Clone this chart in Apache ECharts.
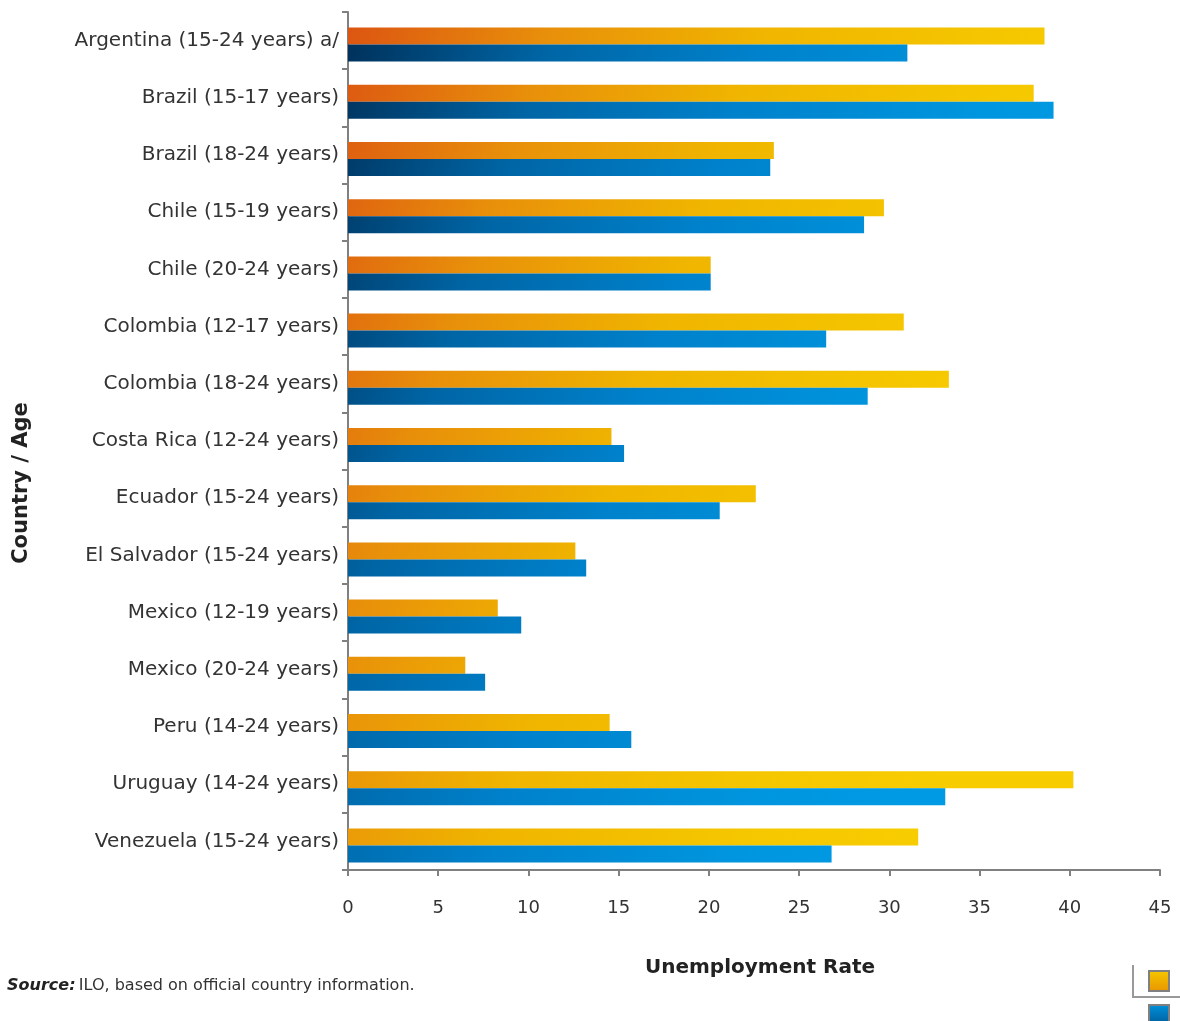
<!DOCTYPE html>
<html>
<head>
<meta charset="utf-8">
<script src="https://cdn.jsdelivr.net/npm/echarts@6/dist/echarts.min.js"></script>
<style>
html,body{margin:0;padding:0;background:#fff;}
#chart{width:1180px;height:1021px;}
</style>
</head>
<body>
<div id="chart"></div>
<script>
const categories = [
  'Argentina (15-24 years) a/',
  'Brazil (15-17 years)',
  'Brazil (18-24 years)',
  'Chile (15-19 years)',
  'Chile (20-24 years)',
  'Colombia (12-17 years)',
  'Colombia (18-24 years)',
  'Costa Rica (12-24 years)',
  'Ecuador (15-24 years)',
  'El Salvador (15-24 years)',
  'Mexico (12-19 years)',
  'Mexico (20-24 years)',
  'Peru (14-24 years)',
  'Uruguay (14-24 years)',
  'Venezuela (15-24 years)'
];
const seriesOrangeValues = [38.6, 38.0, 23.6, 29.7, 20.1, 30.8, 33.3, 14.6, 22.6, 12.6, 8.3, 6.5, 14.5, 40.2, 31.6];
const seriesBlueValues   = [31.0, 39.1, 23.4, 28.6, 20.1, 26.5, 28.8, 15.3, 20.6, 13.2, 9.6, 7.6, 15.7, 33.1, 26.8];
const xTicks = [0, 5, 10, 15, 20, 25, 30, 35, 40, 45];

const G = echarts.graphic;
const orangeFill = new G.LinearGradient(349, 12, 1100, 262, [
  {offset: 0, color: '#dc5412'},
  {offset: 0.25, color: '#e8900a'},
  {offset: 0.5, color: '#f0b500'},
  {offset: 0.8, color: '#f5c700'},
  {offset: 1, color: '#f7cc00'}
], true);
const blueFill = new G.LinearGradient(349, 12, 1100, 262, [
  {offset: 0, color: '#002f58'},
  {offset: 0.25, color: '#0065a5'},
  {offset: 0.5, color: '#0081cb'},
  {offset: 0.8, color: '#0096df'},
  {offset: 1, color: '#009ae4'}
], true);

const chart = echarts.init(document.getElementById('chart'));
chart.setOption({
  animation: false,
  backgroundColor: '#ffffff',
  textStyle: {fontFamily: 'DejaVu Sans'},
  grid: {left: 348, right: 20, top: 12, bottom: 151, containLabel: false, outerBoundsMode: 'none'},
  legend: {
    orient: 'vertical',
    left: 1148,
    top: 970,
    height: 80,
    padding: 0,
    itemWidth: 20,
    itemHeight: 20,
    itemGap: 12,
    icon: 'rect',
    formatter: function () { return ''; },
    selectedMode: false,
    data: [
      {name: 'Series A', itemStyle: {color: new G.LinearGradient(0, 0, 0, 1, [{offset: 0, color: '#f6c800'}, {offset: 1, color: '#e89400'}]), borderColor: '#808080', borderWidth: 2}},
      {name: 'Series B', itemStyle: {color: new G.LinearGradient(0, 0, 0, 1, [{offset: 0, color: '#0092dc'}, {offset: 1, color: '#005a98'}]), borderColor: '#808080', borderWidth: 2}}
    ]
  },
  xAxis: {
    type: 'value',
    min: 0, max: 45, interval: 5,
    name: 'Unemployment Rate',
    nameLocation: 'middle',
    nameGap: 88,
    nameTextStyle: {fontSize: 20, fontWeight: 'bold', color: '#222', padding: [0, 0, 0, 12]},
    axisLine: {show: true, lineStyle: {color: '#808080', width: 2}},
    axisTick: {show: true, length: 6, lineStyle: {color: '#808080', width: 2}},
    axisLabel: {fontSize: 18, color: '#333', margin: 29, formatter: function (v) { return xTicks.indexOf(v) >= 0 ? String(v) : ''; }},
    splitLine: {show: false}
  },
  yAxis: {
    type: 'category',
    inverse: true,
    data: categories,
    axisLine: {show: true, lineStyle: {color: '#808080', width: 2}},
    axisTick: {show: true, length: 6, lineStyle: {color: '#808080', width: 2}},
    axisLabel: {fontSize: 20, color: '#333', margin: 9}
  },
  series: [
    {name: 'spacer', type: 'bar', data: [], barWidth: 8, barGap: '0%', silent: true},
    {name: 'Series A', type: 'bar', data: seriesOrangeValues, barWidth: 17, barGap: '0%', itemStyle: {color: orangeFill}},
    {name: 'Series B', type: 'bar', data: seriesBlueValues, barWidth: 17, barGap: '0%', itemStyle: {color: blueFill}}
  ],
  graphic: [
    {type: 'text', x: 22, y: 483, rotation: Math.PI / 2,
     style: {text: 'Country / Age', fontFamily: 'DejaVu Sans', fontSize: 21, fontWeight: 'bold', fill: '#222', align: 'center', verticalAlign: 'middle'}},
    {type: 'text', x: 7, y: 986,
     style: {rich: {b: {fontStyle: 'italic', fontWeight: 'bold', fontSize: 16, fontFamily: 'DejaVu Sans', fill: '#222'}, n: {fontSize: 16, fontFamily: 'DejaVu Sans', fill: '#333'}},
             text: '{b|Source:} {n|ILO, based on official country information.}', verticalAlign: 'middle'}},
    {type: 'polyline', shape: {points: [[1133, 965], [1133, 997], [1180, 997]]}, style: {stroke: '#999', lineWidth: 2, fill: null}}
  ]
});
</script>
</body>
</html>
